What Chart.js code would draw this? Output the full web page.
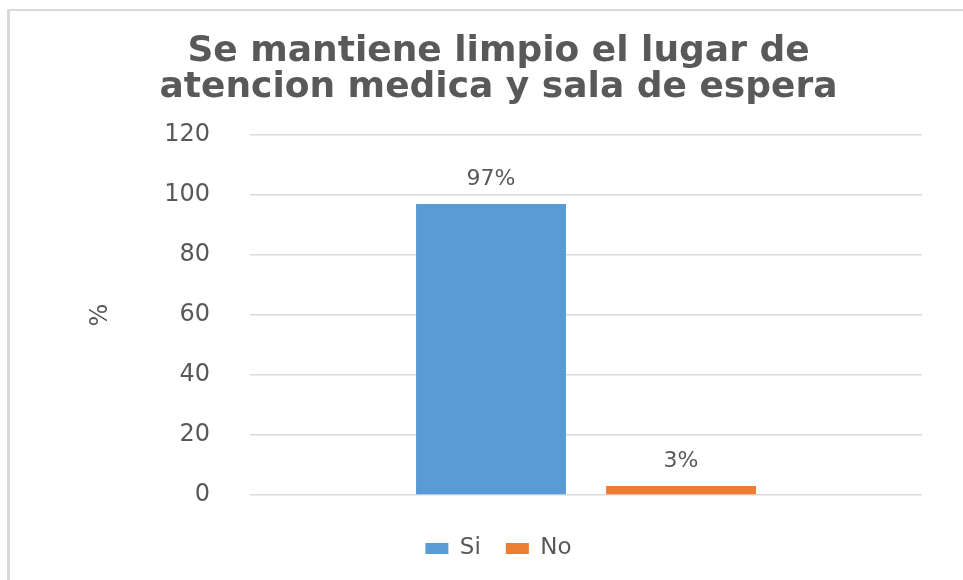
<!DOCTYPE html>
<html>
<head>
<meta charset="utf-8">
<script src="https://cdn.jsdelivr.net/npm/chart.js@4.4.1/dist/chart.umd.min.js"></script>
<style>
  body { margin: 0; background: #fff; }
  #wrap { position: relative; width: 963px; height: 580px; }
  #frame { position: absolute; left: 7px; top: 9px; right: 0; bottom: 0;
           border-left: 3px solid #d9d9d9; border-top: 2px solid #d9d9d9; }
  canvas { position: absolute; left: 0; top: 0; }
</style>
</head>
<body>
<div id="wrap">
  <div id="frame"></div>
  <canvas id="chart" width="963" height="580"></canvas>
</div>
<script>
// data
const categories = [''];
const seriesNames = ['Si', 'No'];
const siValues = [97];
const noValues = [3];
const yTicks = [0, 20, 40, 60, 80, 100, 120];
const titleLines = ['Se mantiene limpio el lugar de', 'atencion medica y sala de espera'];

const textColor = '#595959';
const fontFam = "'DejaVu Sans', sans-serif";

// draws the "97%" / "3%" labels above bars
const valueLabels = {
    id: 'valueLabels',
    afterDatasetsDraw(chart) {
        const ctx = chart.ctx;
        ctx.save();
        ctx.fillStyle = textColor;
        ctx.font = "22px " + fontFam;
        ctx.textAlign = 'center';
        ctx.textBaseline = 'middle';
        chart.data.datasets.forEach((ds, i) => {
            chart.getDatasetMeta(i).data.forEach((bar, j) => {
                ctx.fillText(ds.data[j] + '%', bar.x, bar.y - 25);
            });
        });
        ctx.restore();
    }
};

new Chart(document.getElementById('chart'), {
    type: 'bar',
    data: {
        labels: categories,
        datasets: [
            {
                label: seriesNames[0],
                data: siValues,
                backgroundColor: '#5b9bd5',
                categoryPercentage: 0.5655,
                barPercentage: 0.789
            },
            {
                label: seriesNames[1],
                data: noValues,
                backgroundColor: '#ed7d31',
                categoryPercentage: 0.5655,
                barPercentage: 0.789
            }
        ]
    },
    options: {
        responsive: false,
        animation: false,
        layout: { padding: { top: 0, left: 75, right: 41, bottom: 10 } },
        plugins: {
            title: {
                display: true,
                text: titleLines,
                color: textColor,
                font: { family: fontFam, size: 36, weight: 'bold', lineHeight: 1.0 },
                padding: { top: 34, bottom: 29 }
            },
            legend: {
                position: 'bottom',
                labels: {
                    color: textColor,
                    font: { family: fontFam, size: 23 },
                    boxWidth: 23,
                    boxHeight: 11,
                    padding: 25
                }
            },
            tooltip: { enabled: false }
        },
        scales: {
            x: {
                afterFit(scale) { scale.height = 17; },
                ticks: { display: false },
                grid: { display: false },
                border: { display: false }
            },
            y: {
                min: 0,
                max: 120,
                afterBuildTicks(scale) {
                    scale.ticks = yTicks.map(v => ({ value: v }));
                },
                afterFit(scale) { scale.width = 175; },
                ticks: {
                    color: textColor,
                    font: { family: fontFam, size: 24 },
                    padding: 40
                },
                grid: { color: '#d9d9d9', lineWidth: 1.5, drawTicks: false },
                border: { display: false },
                title: {
                    display: true,
                    text: '%',
                    color: textColor,
                    font: { family: fontFam, size: 24 },
                    padding: { top: 11, bottom: 0 }
                }
            }
        }
    },
    plugins: [valueLabels]
});
</script>
</body>
</html>
